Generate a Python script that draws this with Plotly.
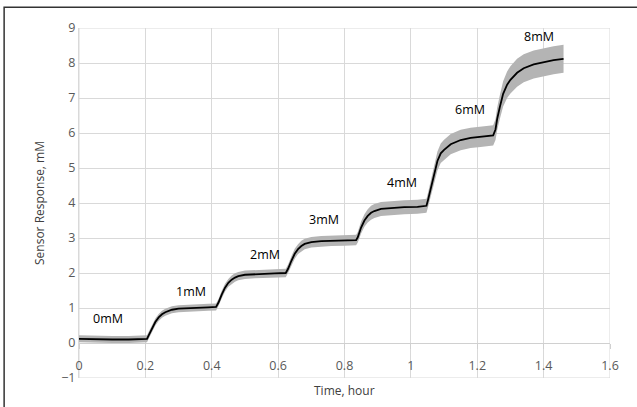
import numpy as np
import plotly.graph_objects as go

# Mean sensor response (mM) vs time (hour)
time_h = [0.00, 0.05, 0.10, 0.15, 0.20,
          0.205, 0.21, 0.22, 0.23, 0.24, 0.25, 0.26, 0.27, 0.28, 0.30, 0.33, 0.36, 0.39, 0.413,
          0.42, 0.43, 0.44, 0.45, 0.46, 0.47, 0.48, 0.50, 0.53, 0.56, 0.59, 0.623,
          0.63, 0.64, 0.65, 0.66, 0.67, 0.68, 0.70, 0.73, 0.76, 0.80, 0.835,
          0.84, 0.85, 0.86, 0.87, 0.88, 0.89, 0.91, 0.94, 0.98, 1.02, 1.047,
          1.052, 1.06, 1.067, 1.08, 1.09, 1.10, 1.12, 1.15, 1.18, 1.21, 1.24, 1.248,
          1.255, 1.26, 1.268, 1.278, 1.29, 1.30, 1.32, 1.34, 1.37, 1.40, 1.43, 1.46]
response = [0.12, 0.10, 0.10, 0.10, 0.10,
            0.12, 0.22, 0.42, 0.60, 0.73, 0.82, 0.88, 0.92, 0.95, 0.98, 1.00, 1.01, 1.02, 1.03,
            1.15, 1.38, 1.58, 1.72, 1.81, 1.87, 1.91, 1.95, 1.97, 1.98, 1.99, 2.00,
            2.12, 2.35, 2.55, 2.68, 2.77, 2.83, 2.88, 2.91, 2.92, 2.93, 2.94,
            3.02, 3.30, 3.50, 3.63, 3.72, 3.77, 3.83, 3.86, 3.88, 3.89, 3.92,
            4.10, 4.40, 4.74, 5.20, 5.42, 5.52, 5.68, 5.80, 5.86, 5.89, 5.92, 5.93,
            6.10, 6.40, 6.74, 7.12, 7.38, 7.52, 7.72, 7.85, 7.96, 8.03, 8.08, 8.12]
# Half-width of the grey spread band (mM)
spread = [0.10, 0.10, 0.10, 0.10, 0.10,
          0.10, 0.10, 0.10, 0.10, 0.10, 0.10, 0.10, 0.10, 0.10, 0.10, 0.10, 0.10, 0.10, 0.10,
          0.10, 0.11, 0.11, 0.11, 0.12, 0.12, 0.12, 0.12, 0.12, 0.12, 0.12, 0.12,
          0.12, 0.13, 0.14, 0.14, 0.15, 0.15, 0.15, 0.15, 0.15, 0.15, 0.15,
          0.15, 0.17, 0.18, 0.19, 0.20, 0.20, 0.20, 0.20, 0.20, 0.20, 0.20,
          0.21, 0.23, 0.25, 0.27, 0.28, 0.29, 0.29, 0.29, 0.29, 0.29, 0.29, 0.29,
          0.30, 0.32, 0.34, 0.36, 0.38, 0.39, 0.40, 0.40, 0.40, 0.40, 0.40, 0.40]

# Concentration labels
label_text = ["0mM", "1mM", "2mM", "3mM", "4mM", "6mM", "8mM"]
label_t = [0.086, 0.337, 0.559, 0.739, 0.973, 1.179, 1.385]
label_v = [0.71, 1.48, 2.53, 3.53, 4.60, 6.68, 8.77]

x_ticks = [0, 0.2, 0.4, 0.6, 0.8, 1.0, 1.2, 1.4, 1.6]
x_ticklabels = ["0", "0.2", "0.4", "0.6", "0.8", "1", "1.2", "1.4", "1.6"]
y_ticks = [-1, 0, 1, 2, 3, 4, 5, 6, 7, 8, 9]

t = np.array(time_h)
m = np.array(response)
s = np.array(spread)

FONT = "Open Sans"
fig = go.Figure()
fig.add_trace(go.Scatter(x=t, y=m - s, mode="lines", line=dict(width=0, color="#b4b4b4"),
                         showlegend=False, hoverinfo="skip"))
fig.add_trace(go.Scatter(x=t, y=m + s, mode="lines", line=dict(width=0, color="#b4b4b4"),
                         fill="tonexty", fillcolor="#b4b4b4", showlegend=False, hoverinfo="skip"))
fig.add_trace(go.Scatter(x=t, y=m, mode="lines", line=dict(width=1.8, color="#000000"),
                         showlegend=False))

for txt, xt, yv in zip(label_text, label_t, label_v):
    fig.add_annotation(x=xt, y=yv, text=txt, showarrow=False, xref="x", yref="y",
                       font=dict(family=FONT, size=12.5, color="#000000"))

fig.add_annotation(text="Time, hour", x=0.5, y=-0.035, xref="paper", yref="paper",
                   xanchor="center", yanchor="middle", showarrow=False,
                   font=dict(family=FONT, size=12, color="#404040"))

# outer chart border
fig.add_shape(type="rect", xref="paper", yref="paper", x0=-0.141, y0=-0.2, x1=1.2, y1=1.059,
              line=dict(color="#333333", width=1.5), layer="above")

fig.update_layout(
    width=637, height=407,
    margin=dict(l=79, r=27, t=28, b=29),
    paper_bgcolor="white", plot_bgcolor="white",
    xaxis=dict(range=[0, 1.6], tickvals=x_ticks, ticktext=x_ticklabels,
               showgrid=True, gridcolor="#d9d9d9", gridwidth=1,
               anchor="free", position=0.1, side="bottom",
               showline=True, linecolor="#d0d0d0", linewidth=1,
               ticks="outside", ticklen=5, tickcolor="#d0d0d0",
               ticklabelstandoff=6,
               tickfont=dict(family=FONT, size=12.5, color="#595959"),
               zeroline=False, mirror=False),
    yaxis=dict(range=[-1, 9], tickvals=y_ticks, showgrid=True, gridcolor="#d9d9d9",
               gridwidth=1, zeroline=False, showline=True, linecolor="#d9d9d9",
               ticks="", tickfont=dict(family=FONT, size=12.5, color="#595959"),
               title=dict(text="Sensor Response, mM", standoff=14,
                          font=dict(family=FONT, size=12, color="#404040"))),
)
# outline of the plot area
fig.add_shape(type="rect", xref="x", yref="y", x0=0, y0=-1, x1=1.6, y1=9,
              line=dict(color="#d9d9d9", width=1), layer="below")

fig.write_html("out.html", config={"displayModeBar": False},
               post_script="document.body.style.margin='0';document.body.style.overflow='hidden';")
